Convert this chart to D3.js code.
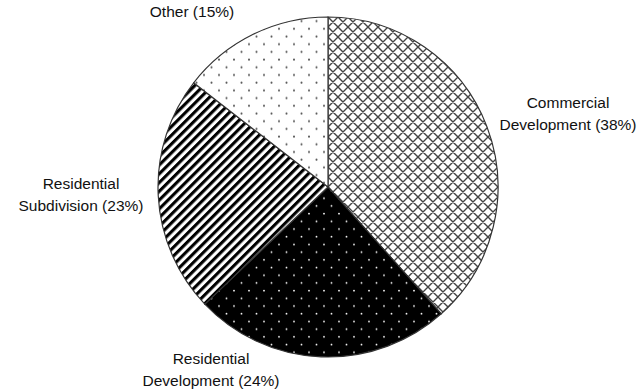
<!DOCTYPE html>
<html>
<head>
<meta charset="utf-8">
<script src="https://cdn.jsdelivr.net/npm/d3@7"></script>
<style>
  body { margin: 0; background: #fff; }
  text { font-family: "Liberation Sans", Arial, sans-serif; font-size: 15.5px; fill: #111; }
</style>
</head>
<body>
<div id="chart"></div>
<script>
// slice data, clockwise from 12 o'clock
var categories = ["Commercial Development", "Residential Development", "Residential Subdivision", "Other"];
var shares = [38.4, 24.5, 22.6, 14.5];
var labelLines = [
  ["Commercial", "Development (38%)"],
  ["Residential", "Development (24%)"],
  ["Residential", "Subdivision (23%)"],
  ["Other (15%)"]
];

var svgWidth = 644;
var svgHeight = 391;
var cx = 328, cy = 187, radius = 170;

var svg = d3.select("#chart")
  .append("svg")
  .attr("width", svgWidth)
  .attr("height", svgHeight);

var defs = svg.append("defs");

// crosshatch (diamonds)
var hatch = defs.append("pattern")
  .attr("id", "pat0")
  .attr("patternUnits", "userSpaceOnUse")
  .attr("width", 10).attr("height", 10);
hatch.append("rect").attr("width", 10).attr("height", 10).attr("fill", "#fff");
hatch.append("path")
  .attr("d", "M0,0L10,10M10,0L0,10M-1,9L1,11M9,-1L11,1M-1,1L1,-1M9,11L11,9")
  .attr("stroke", "#444").attr("stroke-width", 1.4);

// black with white dots
var darkDots = defs.append("pattern")
  .attr("id", "pat1")
  .attr("patternUnits", "userSpaceOnUse")
  .attr("width", 15).attr("height", 15.4);
darkDots.append("rect").attr("width", 15).attr("height", 15.4).attr("fill", "#000");
darkDots.append("circle").attr("cx", 3.5).attr("cy", 3.5).attr("r", 0.9).attr("fill", "#fff");
darkDots.append("circle").attr("cx", 11).attr("cy", 11.2).attr("r", 0.9).attr("fill", "#fff");

// wide upward diagonal stripes
var stripes = defs.append("pattern")
  .attr("id", "pat2")
  .attr("patternUnits", "userSpaceOnUse")
  .attr("width", 6.2).attr("height", 10)
  .attr("patternTransform", "rotate(45)");
stripes.append("rect").attr("width", 6.2).attr("height", 10).attr("fill", "#fff");
stripes.append("rect").attr("width", 3.1).attr("height", 10).attr("fill", "#000");

// white with grey dots
var lightDots = defs.append("pattern")
  .attr("id", "pat3")
  .attr("patternUnits", "userSpaceOnUse")
  .attr("width", 15).attr("height", 15.4);
lightDots.append("rect").attr("width", 15).attr("height", 15.4).attr("fill", "#fff");
lightDots.append("circle").attr("cx", 3.5).attr("cy", 3.5).attr("r", 1).attr("fill", "#555");
lightDots.append("circle").attr("cx", 11).attr("cy", 11.2).attr("r", 1).attr("fill", "#555");

var pie = d3.pie().sort(null).value(function(d) { return d; });
var arc = d3.arc().innerRadius(0).outerRadius(radius);

var arcs = pie(shares);

var pieGroup = svg.append("g")
  .attr("transform", `translate(${cx}, ${cy})`);

pieGroup.selectAll("path")
  .data(arcs)
  .enter()
  .append("path")
  .attr("d", arc)
  .attr("fill", function(d, i) { return "url(#pat" + i + ")"; })
  .attr("stroke", "#333")
  .attr("stroke-width", 1.2);

// label positions (centre of text block, first baseline)
var labelPos = [[568, 108], [211, 364], [81, 189], [192, 17]];

var labels = svg.selectAll("text.lbl")
  .data(labelLines)
  .enter()
  .append("text")
  .attr("class", "lbl")
  .attr("text-anchor", "middle")
  .attr("x", function(d, i) { return labelPos[i][0]; })
  .attr("y", function(d, i) { return labelPos[i][1]; });

labels.each(function(lines, i) {
  var t = d3.select(this);
  lines.forEach(function(line, j) {
    t.append("tspan")
      .attr("x", labelPos[i][0])
      .attr("dy", j === 0 ? 0 : 22)
      .text(line);
  });
});
</script>
</body>
</html>
